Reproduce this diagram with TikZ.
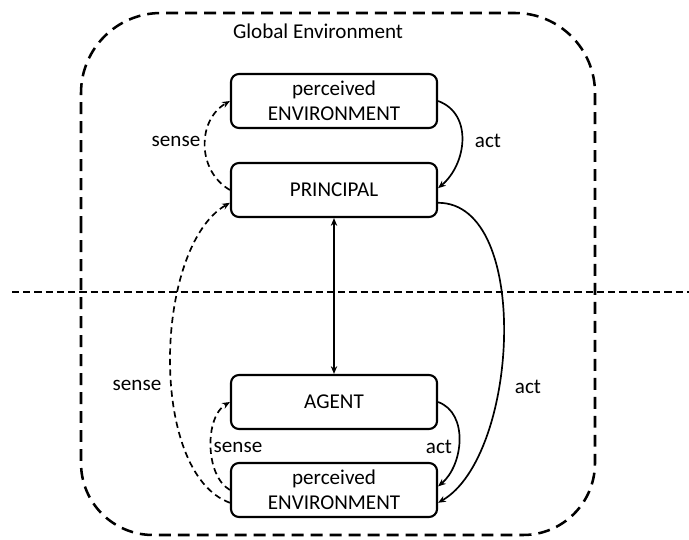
\documentclass[tikz,border=0pt]{standalone}
\usepackage{fontspec}
\setmainfont{Carlito}
\usetikzlibrary{arrows.meta}

\begin{document}
\begin{tikzpicture}[x=0.025cm, y=0.025cm,
		mybox/.style={draw, rounded corners=0.2cm, line width=1.5pt, minimum width=5.15cm, minimum height=1.35cm, inner sep=0pt, align=center, font=\fontsize{15}{18}\selectfont},
		mylabel/.style={font=\fontsize{15}{18}\selectfont},
		actline/.style={line width=1.2pt, -{Stealth[length=5.5pt,width=4.5pt]}},
		senseline/.style={actline, dash pattern=on 4.5pt off 3pt}
	]
		\useasboundingbox (0,0) rectangle (689,-539);

		\draw[line width=1.8pt, dash pattern=on 8.5pt off 5pt] (81,-300) [rounded corners=2cm] -- (81,-13) -- (595,-13) [rounded corners=1.8cm] -- (595,-535) -- (81,-535) -- cycle;
		\node[mylabel] (global) at (318,-31) {Global Environment};

		\draw[line width=1.2pt, dash pattern=on 5pt off 3pt] (12,-292) -- (689,-292);

		\node[mybox] (envTop) at (334,-101) {perceived\\ENVIRONMENT};
		\node[mybox] (princ) at (334,-190) {PRINCIPAL};
		\node[mybox] (agent) at (334,-402) {AGENT};
		\node[mybox] (envBot) at (334,-490) {perceived\\ENVIRONMENT};

		\draw[actline, {Stealth[length=5.5pt,width=4.5pt]}-{Stealth[length=5.5pt,width=4.5pt]}] (princ) -- (agent);

		\draw[senseline] (princ.west) to[out=150, in=210, looseness=1.1] (envTop.west);
		\draw[actline] (envTop.east) to[out=-20, in=40, looseness=1.1] (princ.1);
		\draw[senseline] (envBot.187) to[out=160, in=210, looseness=0.75] (princ.187);
		\draw[actline] (princ.-7) to[out=0, in=30, looseness=0.8] (envBot.-7);
		\draw[senseline] (envBot.west) to[out=150, in=210, looseness=0.85] (agent.west);
		\draw[actline] (agent.east) to[out=-20, in=40, looseness=1] (envBot.2);

		\node[mylabel] (senseTop) at (176,-141) {sense};
		\node[mylabel] (actTop) at (488,-141) {act};
		\node[mylabel] (senseBig) at (137,-385) {sense};
		\node[mylabel] (actBig) at (528,-387) {act};
		\node[mylabel] (senseSmall) at (238,-447) {sense};
		\node[mylabel] (actSmall) at (439,-447) {act};
	\end{tikzpicture}
\end{document}
